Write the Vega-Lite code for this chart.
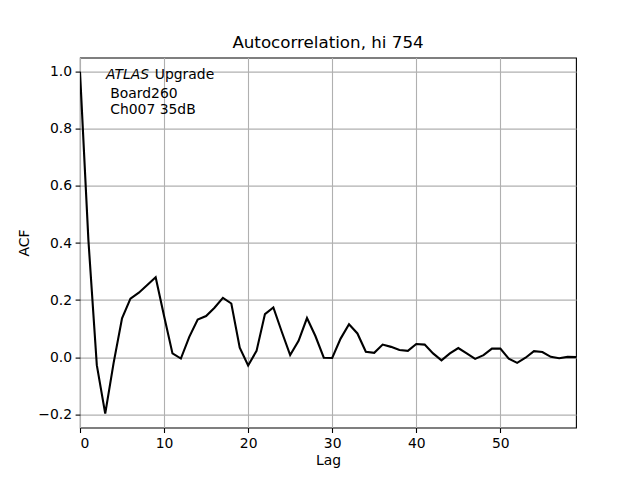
{
  "$schema": "https://vega.github.io/schema/vega-lite/v6.json",
  "autosize": "none",
  "width": 496,
  "height": 370,
  "padding": {"left": 80, "top": 57.6, "right": 64, "bottom": 52.4},
  "background": "white",
  "title": {"text": "Autocorrelation, hi 754", "font": "DejaVu Sans", "fontSize": 16.7, "fontWeight": "normal", "color": "black", "anchor": "middle", "frame": "group", "offset": 6},
  "config": {
    "view": {"stroke": "black", "strokeWidth": 1.1},
    "axis": {
      "labelFont": "DejaVu Sans", "labelFontSize": 13.9, "labelColor": "black",
      "titleFont": "DejaVu Sans", "titleFontSize": 13.9, "titleFontWeight": "normal", "titleColor": "black",
      "domain": false, "tickColor": "black", "tickSize": 4.9, "tickWidth": 1.1, "labelPadding": 3.5,
      "grid": true, "gridColor": "#b0b0b0", "gridWidth": 1.1
    }
  },
  "datasets": {
    "acf": [
      {"lag": 0, "acf": 1.0}, {"lag": 1, "acf": 0.41}, {"lag": 2, "acf": -0.028}, {"lag": 3, "acf": -0.198},
      {"lag": 4, "acf": -0.02}, {"lag": 5, "acf": 0.136}, {"lag": 6, "acf": 0.205}, {"lag": 7, "acf": 0.226},
      {"lag": 8, "acf": 0.253}, {"lag": 9, "acf": 0.28}, {"lag": 10, "acf": 0.144}, {"lag": 11, "acf": 0.013},
      {"lag": 12, "acf": -0.005}, {"lag": 13, "acf": 0.071}, {"lag": 14, "acf": 0.132}, {"lag": 15, "acf": 0.144},
      {"lag": 16, "acf": 0.173}, {"lag": 17, "acf": 0.208}, {"lag": 18, "acf": 0.188}, {"lag": 19, "acf": 0.033},
      {"lag": 20, "acf": -0.029}, {"lag": 21, "acf": 0.022}, {"lag": 22, "acf": 0.151}, {"lag": 23, "acf": 0.174},
      {"lag": 24, "acf": 0.089}, {"lag": 25, "acf": 0.007}, {"lag": 26, "acf": 0.057}, {"lag": 27, "acf": 0.137},
      {"lag": 28, "acf": 0.074}, {"lag": 29, "acf": -0.002}, {"lag": 30, "acf": -0.003}, {"lag": 31, "acf": 0.065},
      {"lag": 32, "acf": 0.115}, {"lag": 33, "acf": 0.083}, {"lag": 34, "acf": 0.019}, {"lag": 35, "acf": 0.015},
      {"lag": 36, "acf": 0.044}, {"lag": 37, "acf": 0.036}, {"lag": 38, "acf": 0.025}, {"lag": 39, "acf": 0.022},
      {"lag": 40, "acf": 0.046}, {"lag": 41, "acf": 0.044}, {"lag": 42, "acf": 0.013}, {"lag": 43, "acf": -0.011},
      {"lag": 44, "acf": 0.013}, {"lag": 45, "acf": 0.032}, {"lag": 46, "acf": 0.013}, {"lag": 47, "acf": -0.006},
      {"lag": 48, "acf": 0.007}, {"lag": 49, "acf": 0.03}, {"lag": 50, "acf": 0.03}, {"lag": 51, "acf": -0.005},
      {"lag": 52, "acf": -0.02}, {"lag": 53, "acf": -0.002}, {"lag": 54, "acf": 0.021}, {"lag": 55, "acf": 0.018},
      {"lag": 56, "acf": 0.001}, {"lag": 57, "acf": -0.004}, {"lag": 58, "acf": 0.001}, {"lag": 59, "acf": 0.0}
    ],
    "italic": [{"lag": 3.1, "acf": 0.988, "label": "ATLAS"}],
    "plain": [
      {"lag": 8.9, "acf": 0.988, "label": "Upgrade"},
      {"lag": 3.6, "acf": 0.922, "label": "Board260"},
      {"lag": 3.6, "acf": 0.868, "label": "Ch007 35dB"}
    ]
  },
  "layer": [
    {
      "data": {"name": "acf"},
      "mark": {"type": "line", "color": "black", "strokeWidth": 2.1, "clip": true},
      "encoding": {
        "x": {"field": "lag", "type": "quantitative", "scale": {"domain": [0, 59], "nice": false, "zero": false},
              "axis": {"title": "Lag", "values": [0, 10, 20, 30, 40, 50], "format": "d", "titlePadding": 4}},
        "y": {"field": "acf", "type": "quantitative", "scale": {"domain": [-0.247, 1.05], "nice": false, "zero": false},
              "axis": {"title": "ACF", "values": [-0.2, 0, 0.2, 0.4, 0.6, 0.8, 1.0], "format": ".1f", "titlePadding": 6}}
      }
    },
    {
      "data": {"name": "italic"},
      "mark": {"type": "text", "font": "DejaVu Sans", "fontSize": 13.9, "fontStyle": "italic", "color": "black", "align": "left", "baseline": "middle"},
      "encoding": {
        "x": {"field": "lag", "type": "quantitative"},
        "y": {"field": "acf", "type": "quantitative"},
        "text": {"field": "label"}
      }
    },
    {
      "data": {"name": "plain"},
      "mark": {"type": "text", "font": "DejaVu Sans", "fontSize": 13.9, "color": "black", "align": "left", "baseline": "middle"},
      "encoding": {
        "x": {"field": "lag", "type": "quantitative"},
        "y": {"field": "acf", "type": "quantitative"},
        "text": {"field": "label"}
      }
    }
  ]
}
